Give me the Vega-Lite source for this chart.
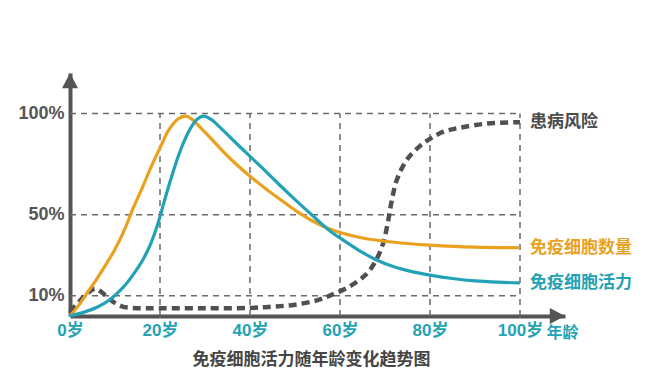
{
  "$schema": "https://vega.github.io/schema/vega-lite/v6.json",
  "autosize": {"type": "none"},
  "padding": {"left": 70, "top": 73, "right": 85, "bottom": 73},
  "width": 495,
  "height": 243,
  "background": "white",
  "config": {"view": {"stroke": null}, "font": "Liberation Sans, Noto Sans CJK SC"},
  "title": {
    "text": "免疫细胞活力随年龄变化趋势图",
    "orient": "bottom",
    "anchor": "middle",
    "offset": 12,
    "dx": -6,
    "fontSize": 17,
    "fontWeight": "bold",
    "color": "#454545",
    "font": "Noto Sans CJK SC"
  },
  "datasets": {
    "curves": [
      {"series": "免疫细胞数量", "age": 0, "value": 0},
      {"series": "免疫细胞数量", "age": 2, "value": 5.5},
      {"series": "免疫细胞数量", "age": 4, "value": 12},
      {"series": "免疫细胞数量", "age": 6, "value": 18.5},
      {"series": "免疫细胞数量", "age": 8, "value": 25.5},
      {"series": "免疫细胞数量", "age": 10, "value": 33},
      {"series": "免疫细胞数量", "age": 12, "value": 42},
      {"series": "免疫细胞数量", "age": 14, "value": 53},
      {"series": "免疫细胞数量", "age": 16, "value": 63},
      {"series": "免疫细胞数量", "age": 18, "value": 73.5},
      {"series": "免疫细胞数量", "age": 20, "value": 83},
      {"series": "免疫细胞数量", "age": 22, "value": 92},
      {"series": "免疫细胞数量", "age": 24, "value": 97.3},
      {"series": "免疫细胞数量", "age": 25.7, "value": 98.7},
      {"series": "免疫细胞数量", "age": 27.3, "value": 96.8},
      {"series": "免疫细胞数量", "age": 29, "value": 93},
      {"series": "免疫细胞数量", "age": 31, "value": 88.5},
      {"series": "免疫细胞数量", "age": 34, "value": 81.3},
      {"series": "免疫细胞数量", "age": 37, "value": 74.8},
      {"series": "免疫细胞数量", "age": 40, "value": 69},
      {"series": "免疫细胞数量", "age": 44, "value": 62},
      {"series": "免疫细胞数量", "age": 48, "value": 55.5},
      {"series": "免疫细胞数量", "age": 51, "value": 50.8},
      {"series": "免疫细胞数量", "age": 54, "value": 46.8},
      {"series": "免疫细胞数量", "age": 57, "value": 43.6},
      {"series": "免疫细胞数量", "age": 60, "value": 41.2},
      {"series": "免疫细胞数量", "age": 65, "value": 38.5},
      {"series": "免疫细胞数量", "age": 70, "value": 36.9},
      {"series": "免疫细胞数量", "age": 75, "value": 35.8},
      {"series": "免疫细胞数量", "age": 80, "value": 35},
      {"series": "免疫细胞数量", "age": 90, "value": 34},
      {"series": "免疫细胞数量", "age": 100, "value": 33.7},
      {"series": "免疫细胞活力", "age": 0, "value": 0},
      {"series": "免疫细胞活力", "age": 3, "value": 1.8},
      {"series": "免疫细胞活力", "age": 6, "value": 4.3},
      {"series": "免疫细胞活力", "age": 9, "value": 8.3},
      {"series": "免疫细胞活力", "age": 12, "value": 14.6},
      {"series": "免疫细胞活力", "age": 14, "value": 20.3},
      {"series": "免疫细胞活力", "age": 16, "value": 27},
      {"series": "免疫细胞活力", "age": 18, "value": 36},
      {"series": "免疫细胞活力", "age": 19.6, "value": 46},
      {"series": "免疫细胞活力", "age": 21, "value": 57},
      {"series": "免疫细胞活力", "age": 22.4, "value": 67.5},
      {"series": "免疫细胞活力", "age": 24, "value": 78.5},
      {"series": "免疫细胞活力", "age": 25.5, "value": 87},
      {"series": "免疫细胞活力", "age": 27, "value": 93.5},
      {"series": "免疫细胞活力", "age": 28.3, "value": 97.3},
      {"series": "免疫细胞活力", "age": 29.7, "value": 98.7},
      {"series": "免疫细胞活力", "age": 31.2, "value": 97.3},
      {"series": "免疫细胞活力", "age": 33.3, "value": 93.3},
      {"series": "免疫细胞活力", "age": 36.5, "value": 86.3},
      {"series": "免疫细胞活力", "age": 40, "value": 78.8},
      {"series": "免疫细胞活力", "age": 43, "value": 72.5},
      {"series": "免疫细胞活力", "age": 46.3, "value": 65.3},
      {"series": "免疫细胞活力", "age": 50, "value": 57.5},
      {"series": "免疫细胞活力", "age": 53.7, "value": 50},
      {"series": "免疫细胞活力", "age": 56, "value": 45.3},
      {"series": "免疫细胞活力", "age": 58, "value": 41.6},
      {"series": "免疫细胞活力", "age": 60, "value": 38.5},
      {"series": "免疫细胞活力", "age": 64, "value": 32.7},
      {"series": "免疫细胞活力", "age": 68, "value": 27.8},
      {"series": "免疫细胞活力", "age": 72, "value": 24.3},
      {"series": "免疫细胞活力", "age": 76, "value": 21.9},
      {"series": "免疫细胞活力", "age": 80, "value": 20.2},
      {"series": "免疫细胞活力", "age": 85, "value": 18.5},
      {"series": "免疫细胞活力", "age": 90, "value": 17.3},
      {"series": "免疫细胞活力", "age": 95, "value": 16.7},
      {"series": "免疫细胞活力", "age": 100, "value": 16.4},
      {"series": "患病风险", "age": 0, "value": 2},
      {"series": "患病风险", "age": 2, "value": 7},
      {"series": "患病风险", "age": 4, "value": 11.5},
      {"series": "患病风险", "age": 5.6, "value": 13.5},
      {"series": "患病风险", "age": 7, "value": 11.8},
      {"series": "患病风险", "age": 8.2, "value": 9.5},
      {"series": "患病风险", "age": 9.6, "value": 7},
      {"series": "患病风险", "age": 11.5, "value": 4.8},
      {"series": "患病风险", "age": 14, "value": 4},
      {"series": "患病风险", "age": 20, "value": 3.8},
      {"series": "患病风险", "age": 30, "value": 3.8},
      {"series": "患病风险", "age": 40, "value": 4},
      {"series": "患病风险", "age": 45, "value": 4.6},
      {"series": "患病风险", "age": 50, "value": 5.6},
      {"series": "患病风险", "age": 55, "value": 7.8},
      {"series": "患病风险", "age": 58, "value": 10.3},
      {"series": "患病风险", "age": 62, "value": 14.4},
      {"series": "患病风险", "age": 66, "value": 21},
      {"series": "患病风险", "age": 68, "value": 27.5},
      {"series": "患病风险", "age": 69.6, "value": 36},
      {"series": "患病风险", "age": 70.7, "value": 47},
      {"series": "患病风险", "age": 71.5, "value": 57},
      {"series": "患病风险", "age": 72.6, "value": 67},
      {"series": "患病风险", "age": 74.8, "value": 77},
      {"series": "患病风险", "age": 77.8, "value": 84},
      {"series": "患病风险", "age": 80, "value": 87.5},
      {"series": "患病风险", "age": 83, "value": 91},
      {"series": "患病风险", "age": 86.7, "value": 93},
      {"series": "患病风险", "age": 92.6, "value": 95},
      {"series": "患病风险", "age": 100, "value": 95.7}
    ],
    "hgrid": [{"level": 10}, {"level": 50}, {"level": 100}],
    "vgrid": [{"age": 20}, {"age": 40}, {"age": 60}, {"age": 80}, {"age": 100}]
  },
  "data": {"name": "curves"},
  "layer": [
    {
      "data": {"name": "hgrid"},
      "mark": {"type": "rule", "color": "#6a6a6a", "strokeWidth": 1.5, "strokeDash": [6, 5]},
      "encoding": {
        "y": {"field": "level", "type": "quantitative", "scale": {"domain": [0, 120], "nice": false}},
        "x": {"datum": 0, "type": "quantitative", "scale": {"domain": [0, 110], "nice": false}},
        "x2": {"datum": 100}
      }
    },
    {
      "data": {"name": "vgrid"},
      "mark": {"type": "rule", "color": "#6a6a6a", "strokeWidth": 1.5, "strokeDash": [6, 5]},
      "encoding": {
        "x": {"field": "age", "type": "quantitative"},
        "y": {"datum": 0, "type": "quantitative"},
        "y2": {"datum": 100}
      }
    },
    {
      "transform": [{"filter": "datum.series == '患病风险'"}],
      "mark": {"type": "line", "interpolate": "catmull-rom", "color": "#505050", "strokeWidth": 4.5, "strokeDash": [8, 5]},
      "encoding": {
        "x": {"field": "age", "type": "quantitative"},
        "y": {"field": "value", "type": "quantitative"}
      }
    },
    {
      "transform": [{"filter": "datum.series != '患病风险'"}],
      "mark": {"type": "line", "interpolate": "catmull-rom", "strokeWidth": 3.2},
      "encoding": {
        "x": {
          "field": "age", "type": "quantitative",
          "axis": {
            "values": [0, 20, 40, 60, 80, 100],
            "labelExpr": "datum.value + '岁'",
            "title": "年龄",
            "titleX": 492, "titleY": 16, "titleAlign": "center", "titleBaseline": "middle", "titleAngle": 0,
            "titleColor": "#25a3b4", "titleFontSize": 16, "titleFontWeight": "bold", "titleFont": "Noto Sans CJK SC",
            "labelColor": "#25a3b4", "labelFontSize": 17, "labelFontWeight": "bold", "labelDx": 6, "labelPadding": 6,
            "labelFlush": false, "labelOverlap": false,
            "ticks": false, "grid": false,
            "domainColor": "#555555", "domainWidth": 4
          }
        },
        "y": {
          "field": "value", "type": "quantitative",
          "axis": {
            "values": [10, 50, 100],
            "labelExpr": "datum.value + '%'",
            "title": null,
            "labelColor": "#555555", "labelFontSize": 18, "labelFontWeight": "bold", "labelPadding": 6,
            "labelFlush": false, "labelOverlap": false,
            "ticks": false, "grid": false,
            "domainColor": "#555555", "domainWidth": 4
          }
        },
        "color": {
          "field": "series", "type": "nominal", "legend": null,
          "scale": {"domain": ["免疫细胞数量", "免疫细胞活力", "患病风险"], "range": ["#E9A11F", "#22A2B4", "#4a4a4a"]}
        }
      }
    },
    {
      "transform": [{"filter": "datum.age == 100"}],
      "mark": {"type": "text", "align": "left", "baseline": "middle", "dx": 10, "fontSize": 17, "fontWeight": "bold", "font": "Noto Sans CJK SC"},
      "encoding": {
        "x": {"field": "age", "type": "quantitative"},
        "y": {"field": "value", "type": "quantitative"},
        "text": {"field": "series"},
        "color": {"field": "series", "type": "nominal", "legend": null}
      }
    },
    {
      "data": {"values": [{"axis": "y"}]},
      "mark": {"type": "point", "shape": "M0,0L1,1.9L-1,1.9Z", "filled": true, "size": 256, "color": "#555555", "opacity": 1},
      "encoding": {"x": {"datum": 0, "type": "quantitative"}, "y": {"datum": 120, "type": "quantitative"}}
    },
    {
      "data": {"values": [{"axis": "x"}]},
      "mark": {"type": "point", "shape": "M0,0L-1.9,-1L-1.9,1Z", "filled": true, "size": 256, "color": "#555555", "opacity": 1},
      "encoding": {"x": {"datum": 110, "type": "quantitative"}, "y": {"datum": 0, "type": "quantitative"}}
    }
  ]
}
